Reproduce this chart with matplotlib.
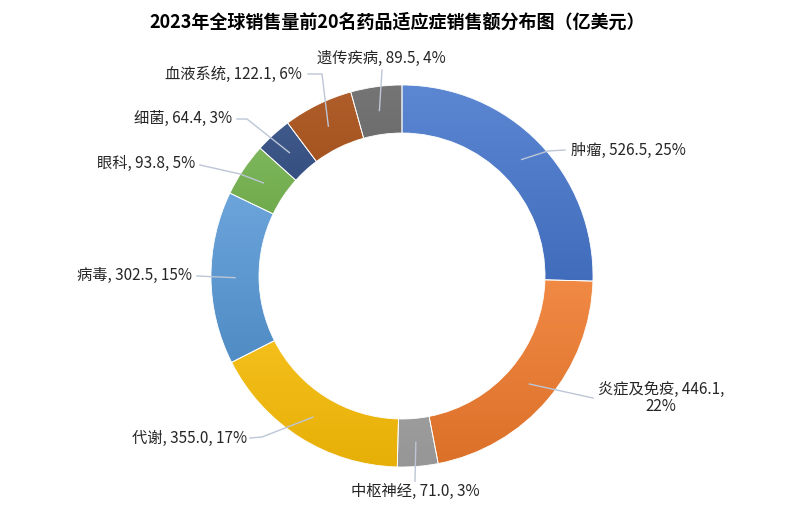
import numpy as np
import matplotlib.pyplot as plt
from matplotlib.colors import to_rgb

plt.rcParams['font.family'] = ['Noto Sans CJK SC', 'DejaVu Sans']

W, H = 804, 512

title = '2023年全球销售量前20名药品适应症销售额分布图（亿美元）'
categories = ['肿瘤', '炎症及免疫', '中枢神经', '代谢', '病毒', '眼科', '细菌', '血液系统', '遗传疾病']
sales = [526.5, 446.1, 71.0, 355.0, 302.5, 93.8, 64.4, 122.1, 89.5]
colors = ['#4676CC', '#EF7A2C', '#A3A3A3', '#FBBF08', '#5798D6', '#6CAD45', '#25437A', '#A4480E', '#626262']

# label layout in image pixels (y down): text position, alignment, leader path after anchor
label_layout = [
    ((571, 150), 'left', [(548, 151), (565, 150)]),
    ((661, 398), 'center', [(593, 398)]),
    ((415, 491), 'center', [(415, 481)]),
    ((247, 438), 'right', [(262, 437), (250, 438)]),
    ((192, 275), 'right', [(197, 276)]),
    ((195, 163), 'right', [(240, 174), (200, 165)]),
    ((232, 118), 'right', [(247, 119), (237, 119)]),
    ((302, 74), 'right', [(322, 74), (308, 74)]),
    ((381, 58), 'center', [(382, 70)]),
]

cx, cy, R, ring = 402, 276, 191, 48


def fy(y):
    return H - y


def shade(c, amt):
    c = np.array(to_rgb(c))
    if amt > 0:
        return c + (1 - c) * amt
    return c * (1 + amt)


fig = plt.figure(figsize=(W / 100, H / 100), dpi=100)
ax = fig.add_axes([0, 0, 1, 1])

wedges, _ = ax.pie(sales, colors=colors, startangle=90, counterclock=False,
                   radius=R, center=(cx, fy(cy)),
                   wedgeprops=dict(width=ring, edgecolor='white', linewidth=0.6))

# vertical gradient inside each wedge, lighter at the top
for w, c in zip(wedges, colors):
    v = w.get_path().vertices
    x0, x1 = v[:, 0].min(), v[:, 0].max()
    y0, y1 = v[:, 1].min(), v[:, 1].max()
    top, bot = shade(c, 0.12), shade(c, -0.08)
    t = np.linspace(0, 1, 64)[:, None]
    img = (bot * (1 - t) + top * t)[:, None, :]
    im = ax.imshow(img, extent=[x0, x1, y0, y1], origin='lower', aspect='auto',
                   interpolation='bilinear', zorder=1)
    im.set_clip_path(w)
    w.set_facecolor('none')
    w.set_zorder(2)

total = sum(sales)
rm = R - ring / 2
for w, name, val, (pos, ha, path) in zip(wedges, categories, sales, label_layout):
    ang = np.deg2rad((w.theta1 + w.theta2) / 2)
    ax_, ay_ = cx + rm * np.cos(ang), fy(cy) + rm * np.sin(ang)
    xs = [ax_] + [p[0] for p in path]
    ys = [ay_] + [fy(p[1]) for p in path]
    ax.plot(xs, ys, color='#BCC6D6', lw=1, zorder=3)
    pct = round(val / total * 100)
    txt = f'{name}, {val:.1f}, {pct}%'
    if name == '炎症及免疫':
        txt = f'{name}, {val:.1f},\n{pct}%'
    ax.text(pos[0], fy(pos[1]), txt, ha=ha, va='center', fontsize=11,
            color='#262626', multialignment='center', linespacing=1.05)

ax.text(W / 2 - 5, fy(22), title, ha='center', va='center', fontsize=13,
        fontweight='bold', color='black')

ax.set_xlim(0, W)
ax.set_ylim(0, H)
ax.set_aspect('equal')
ax.axis('off')

fig.savefig('out.png', dpi=100, facecolor='white')
